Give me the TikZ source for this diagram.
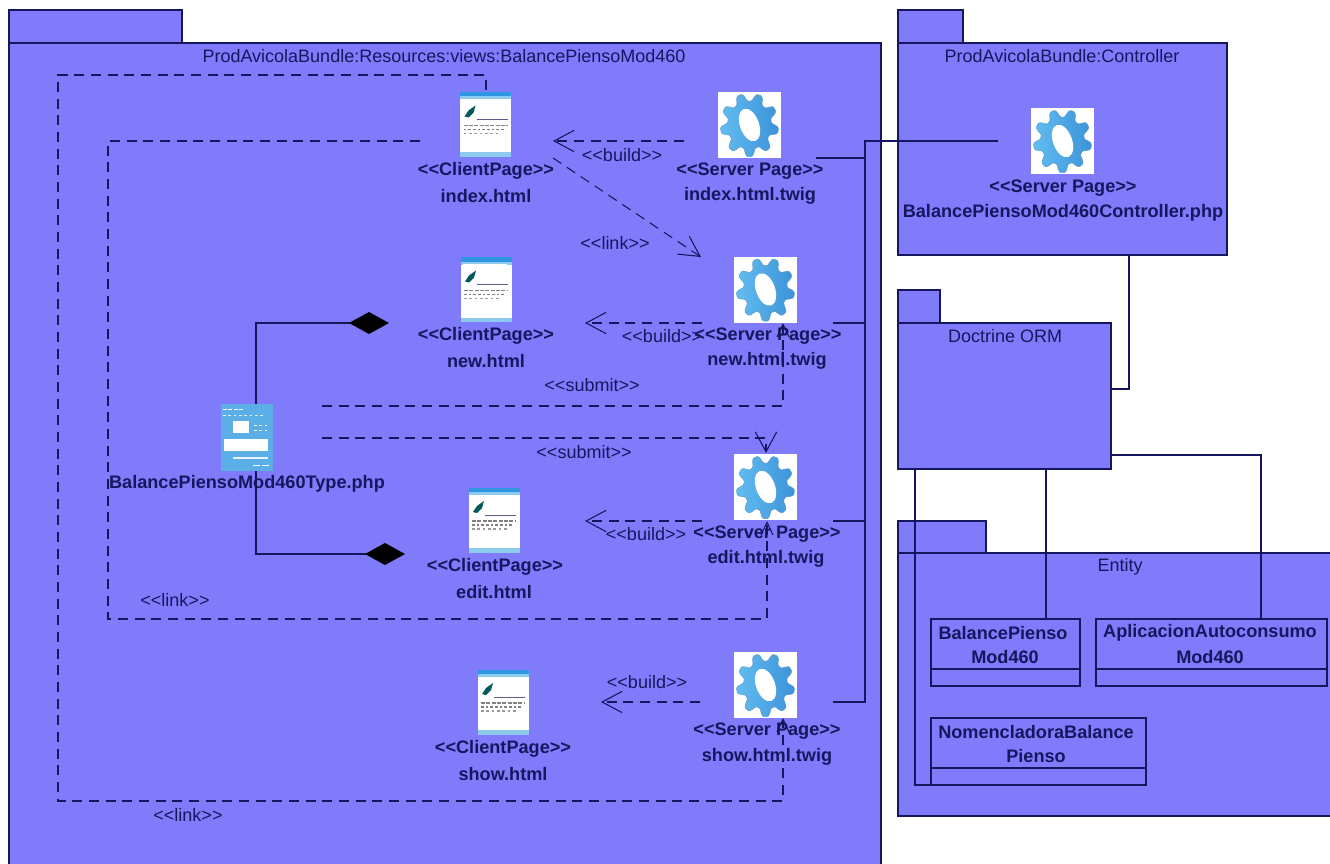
\documentclass[tikz,border=0pt]{standalone}
\usepackage{fontspec}
\setmainfont{Liberation Sans}
\usetikzlibrary{arrows.meta,calc}
\definecolor{pk}{HTML}{7F7BFB}
\definecolor{ln}{HTML}{16165E}
\definecolor{tx}{HTML}{17175F}
\definecolor{gearA}{HTML}{62BDF0}
\definecolor{gearB}{HTML}{3C92D8}
\definecolor{gearE}{HTML}{5A9ACF}
\definecolor{pgB}{HTML}{2F96E2}
\definecolor{pgL}{HTML}{8CCBEE}
\definecolor{ty}{HTML}{5BAFE6}
\newcommand{\LL}{<{}<}
\newcommand{\RR}{>{}>}
\tikzset{
  pkgbox/.style={draw=ln,fill=pk,line width=1.1pt,anchor=north west,inner sep=0pt,outer sep=0pt},
  gearbox/.style={fill=white,inner sep=0pt,outer sep=0pt,minimum width=63*0.75pt,minimum height=66*0.75pt},
  pagebox/.style={fill=white,inner sep=0pt,outer sep=0pt,minimum width=51*0.75pt,minimum height=65*0.75pt},
  typebox/.style={fill=ty,inner sep=0pt,outer sep=0pt,minimum width=52*0.75pt,minimum height=67*0.75pt},
  bold label/.style={text=tx,font=\fontsize{13.6pt}{14pt}\selectfont\bfseries,inner sep=0pt},
  plain label/.style={text=tx,font=\fontsize{13.5pt}{14pt}\selectfont,inner sep=0pt},
  classbox/.style={draw=ln,line width=1pt,inner sep=0pt,outer sep=0pt,anchor=north west,minimum height=67*0.75pt},
  solid link/.style={draw=ln,line width=1.1pt},
  dash link/.style={draw=ln,line width=0.8pt,dash pattern=on 7.5pt off 5pt},
  open tip/.style={-{Straight Barb[length=15pt,width=16pt,line width=0.8pt]}},
  small tip/.style={-{Straight Barb[length=9.5pt,width=9pt,line width=0.8pt]}},
  comp tip/.style={-{Diamond[length=30pt,width=16.5pt,fill=black,black]}},
}
\newcommand{\gearicon}[3]{%
  \node[gearbox] (#1) at (#2,#3) {};
  \begin{scope}[shift={(#1.center)}]
    \path[left color=gearA,right color=gearB,draw=gearE,line width=0.4pt]
      plot[smooth,domain=0:360,samples=109,variable=\a]
      ({(25.5+3.6*max(-1,min(1,1.5*sin(9*\a))))*cos(\a)},{1.09*(25.5+3.6*max(-1,min(1,1.5*sin(9*\a))))*sin(\a)}) -- cycle;
    \fill[white,rotate=20] (0,0) ellipse [x radius=9.5,y radius=17];
  \end{scope}}
\newcommand{\pageicon}[3]{%
  \node[pagebox] (#1) at (#2,#3) {};
  \begin{scope}[shift={(#1.center)}]
    \fill[pgB] (-25.5,-32.5) rectangle (25.5,-28);
    \fill[pgL] (-25.5,-28) rectangle (25.5,-25);
    \fill[white] (-23,-25.5) rectangle (21,-23.5);
    \fill[pgL] (-25.5,28) rectangle (25.5,32.5);
    \fill[teal!70!black] (-21,-8) -- (-17,-14) -- (-10,-19) -- (-12,-12) -- (-17,-7) -- cycle;
    \draw[ln!70,line width=0.6pt] (-9,-5) -- (22,-5);
    \draw[gray,line width=0.9pt,dash pattern=on 3pt off 1pt] (-22,1) -- (22,1);
    \draw[gray,line width=0.8pt,dash pattern=on 2pt off 1.5pt] (-22,5) -- (20,5);
    \draw[gray!80,line width=0.8pt,dash pattern=on 2pt off 2pt] (-22,9) -- (14,9);
  \end{scope}}
\begin{document}
\begin{tikzpicture}[x=0.75pt,y=-0.75pt]
\useasboundingbox (0,0) rectangle (1330,863);
\clip (0,0) rectangle (1330,863);
\fill[white] (0,0) rectangle (1330,863);

% packages
\node[pkgbox,minimum width=173*0.75pt,minimum height=33*0.75pt] (maintab) at (9,10) {};
\node[pkgbox,minimum width=872*0.75pt,minimum height=830*0.75pt] (main) at (9,43) {};
\node[pkgbox,minimum width=65*0.75pt,minimum height=33*0.75pt] (ctab) at (898,10) {};
\node[pkgbox,minimum width=329*0.75pt,minimum height=212*0.75pt] (ctrl) at (898,43) {};
\node[pkgbox,minimum width=42*0.75pt,minimum height=33*0.75pt] (dtab) at (898,290) {};
\node[pkgbox,minimum width=213*0.75pt,minimum height=146*0.75pt] (doct) at (898,323) {};
\node[pkgbox,minimum width=88*0.75pt,minimum height=32*0.75pt] (etab) at (898,521) {};
\node[pkgbox,minimum width=450*0.75pt,minimum height=263*0.75pt] (ent) at (898,553) {};

% titles
\node[plain label] (tmain) at (444,56) {ProdAvicolaBundle:Resources:views:BalancePiensoMod460};
\node[plain label] (tctrl) at (1062,56) {ProdAvicolaBundle:Controller};
\node[plain label] (tdoct) at (1005,336) {Doctrine ORM};
\node[plain label] (tent) at (1120,567) {Entity};

% entity classes
\node[classbox,minimum width=149*0.75pt] (cbal) at (931,619) {};
\node[classbox,minimum width=231*0.75pt] (capl) at (1096,619) {};
\node[classbox,minimum width=215*0.75pt] (cnom) at (931,718) {};
\draw[draw=ln,line width=1pt] ($(cbal.south west)+(0,-17)$) -- ($(cbal.south east)+(0,-17)$);
\draw[draw=ln,line width=1pt] ($(capl.south west)+(0,-17)$) -- ($(capl.south east)+(0,-17)$);
\draw[draw=ln,line width=1pt] ($(cnom.south west)+(0,-17)$) -- ($(cnom.south east)+(0,-17)$);
\node[bold label] (cbal1) at (1003,633) {BalancePienso};
\node[bold label] (cbal2) at (1005,657) {Mod460};
\node[bold label] (capl1) at (1210,633) {AplicacionAutoconsumo};
\node[bold label] (capl2) at (1210,657) {Mod460};
\node[bold label] (cnom1) at (1036,732) {NomencladoraBalance};
\node[bold label] (cnom2) at (1036,756) {Pienso};

% icons
\gearicon{gindex}{749.5}{125}
\gearicon{gnew}{765.5}{289.5}
\gearicon{gedit}{765.5}{487}
\gearicon{gshow}{765.5}{685}
\gearicon{gctrl}{1062.5}{141}
\pageicon{pindex}{485.5}{124.5}
\pageicon{pnew}{486}{289.5}
\pageicon{pedit}{494}{520}
\pageicon{pshow}{503}{702}
\node[typebox] (ptype) at (247,437.5) {};
\begin{scope}[shift={(ptype.center)}]
  \fill[white] (-14,-16.5) rectangle (2,-4.5);
  \fill[white] (-23,1.5) rectangle (21,13.5);
  \fill[white!85!ty] (-14,19.5) rectangle (21,21.5);
  \draw[white,line width=1pt,dash pattern=on 3pt off 1pt] (-24,-28) -- (-4,-28);
  \draw[white!80!ty,line width=0.7pt,dash pattern=on 2pt off 2pt] (-24,-22) -- (18,-22);
  \draw[white!90!ty,line width=0.9pt,dash pattern=on 2pt off 2pt] (7,-12) -- (21,-12);
  \draw[white!90!ty,line width=0.9pt,dash pattern=on 2pt off 2pt] (7,-7) -- (21,-7);
  \draw[white,line width=1pt,dash pattern=on 5pt off 2pt] (6,28) -- (22,28);
\end{scope}

% icon captions
\node[bold label] (lpi1) at (486,171) {\LL ClientPage\RR};
\node[bold label] (lpi2) at (486,196) {index.html};
\node[bold label] (lgi1) at (750,171) {\LL Server Page\RR};
\node[bold label] (lgi2) at (750,196) {index.html.twig};
\node[bold label] (lpn1) at (486,336) {\LL ClientPage\RR};
\node[bold label] (lpn2) at (486,361) {new.html};
\node[bold label] (lgn1) at (768,336) {\LL Server Page\RR};
\node[bold label] (lgn2) at (767,361) {new.html.twig};
\node[bold label] (lpe1) at (495,567) {\LL ClientPage\RR};
\node[bold label] (lpe2) at (494,592) {edit.html};
\node[bold label] (lge1) at (767,534) {\LL Server Page\RR};
\node[bold label] (lge2) at (766,559) {edit.html.twig};
\node[bold label] (lps1) at (503,749) {\LL ClientPage\RR};
\node[bold label] (lps2) at (503,774) {show.html};
\node[bold label] (lgs1) at (767,731) {\LL Server Page\RR};
\node[bold label] (lgs2) at (767,757) {show.html.twig};
\node[bold label] (lgc1) at (1063,188) {\LL Server Page\RR};
\node[bold label] (lgc2) at (1063,213) {BalancePiensoMod460Controller.php};
\node[bold label] (ltype) at (247,484) {BalancePiensoMod460Type.php};

% free ends of connectors
\coordinate (trtop) at (865,141);
\coordinate (trbot) at (865,702);
\coordinate (sctrl) at (998,141);
\coordinate (sindex) at (816,158);
\coordinate (snew) at (833,323);
\coordinate (sedit) at (833,521);
\coordinate (sshow) at (833,702);
\coordinate (bi) at (684,141);
\coordinate (bit) at (553,141);
\coordinate (bn) at (702,323);
\coordinate (bnt) at (585,323);
\coordinate (be) at (702,521);
\coordinate (bet) at (585,521);
\coordinate (bs) at (700,702);
\coordinate (bst) at (601,702);
\coordinate (li) at (553,158);
\coordinate (lit) at (701,257);
\coordinate (su1) at (322,406);
\coordinate (su1t) at (783,323);
\coordinate (su2) at (322,438);
\coordinate (su2t) at (766,453);
\coordinate (le) at (420,141);
\coordinate (let) at (767,521);
\coordinate (ls) at (486,90);
\coordinate (lst) at (783,718);
\coordinate (dnew) at (389,323);
\coordinate (dedit) at (405,554);

% solid connectors
\draw[solid link] (sctrl) -- (trtop) -- (trbot) -- (sshow);
\draw[solid link] (sindex) -- (trtop |- sindex);
\draw[solid link] (snew) -- (trtop |- snew);
\draw[solid link] (sedit) -- (trtop |- sedit);
\draw[solid link] (ctrl.south -| 1129,0) -- (1129,389) -- (doct.east |- 0,389);
\draw[solid link] (doct.south -| 1046,0) -- (cbal.north -| 1046,0);
\draw[solid link] (doct.east |- 0,455) -- (1261,455) -- (capl.north -| 1261,0);
\draw[solid link] (doct.south -| 915,0) -- (cnom.south -| 915,0) -- (cnom.south west);
\draw[solid link,comp tip] (ptype.north -| 256,0) -- (256,323) -- (dnew);
\draw[solid link,comp tip] (ptype.south -| 256,0) -- (256,554) -- (dedit);

% dashed connectors
\draw[dash link,open tip] (bi) -- (bit);
\draw[dash link,open tip] (bn) -- (bnt);
\draw[dash link,open tip] (be) -- (bet);
\draw[dash link,open tip] (bs) -- (bst);
\draw[dash link,open tip] (li) -- (lit);
\draw[dash link,small tip] (su1) -- (783,406) -- (su1t);
\draw[dash link,open tip] (su2) -- (766,438) -- (su2t);
\draw[dash link,small tip] (le) -- (108,141) -- (108,619) -- (767,619) -- (let);
\draw[dash link,small tip] (ls) -- (486,75) -- (58,75) -- (58,801) -- (783,801) -- (lst);

% connector labels
\node[plain label] (k1) at (622,155) {\LL build\RR};
\node[plain label] (k2) at (615,243) {\LL link\RR};
\node[plain label] (k3) at (662,336) {\LL build\RR};
\node[plain label] (k4) at (592,385) {\LL submit\RR};
\node[plain label] (k5) at (584,452) {\LL submit\RR};
\node[plain label] (k6) at (646,534) {\LL build\RR};
\node[plain label] (k7) at (647,682) {\LL build\RR};
\node[plain label] (k8) at (175,600) {\LL link\RR};
\node[plain label] (k9) at (188,815) {\LL link\RR};
\end{tikzpicture}
\end{document}
